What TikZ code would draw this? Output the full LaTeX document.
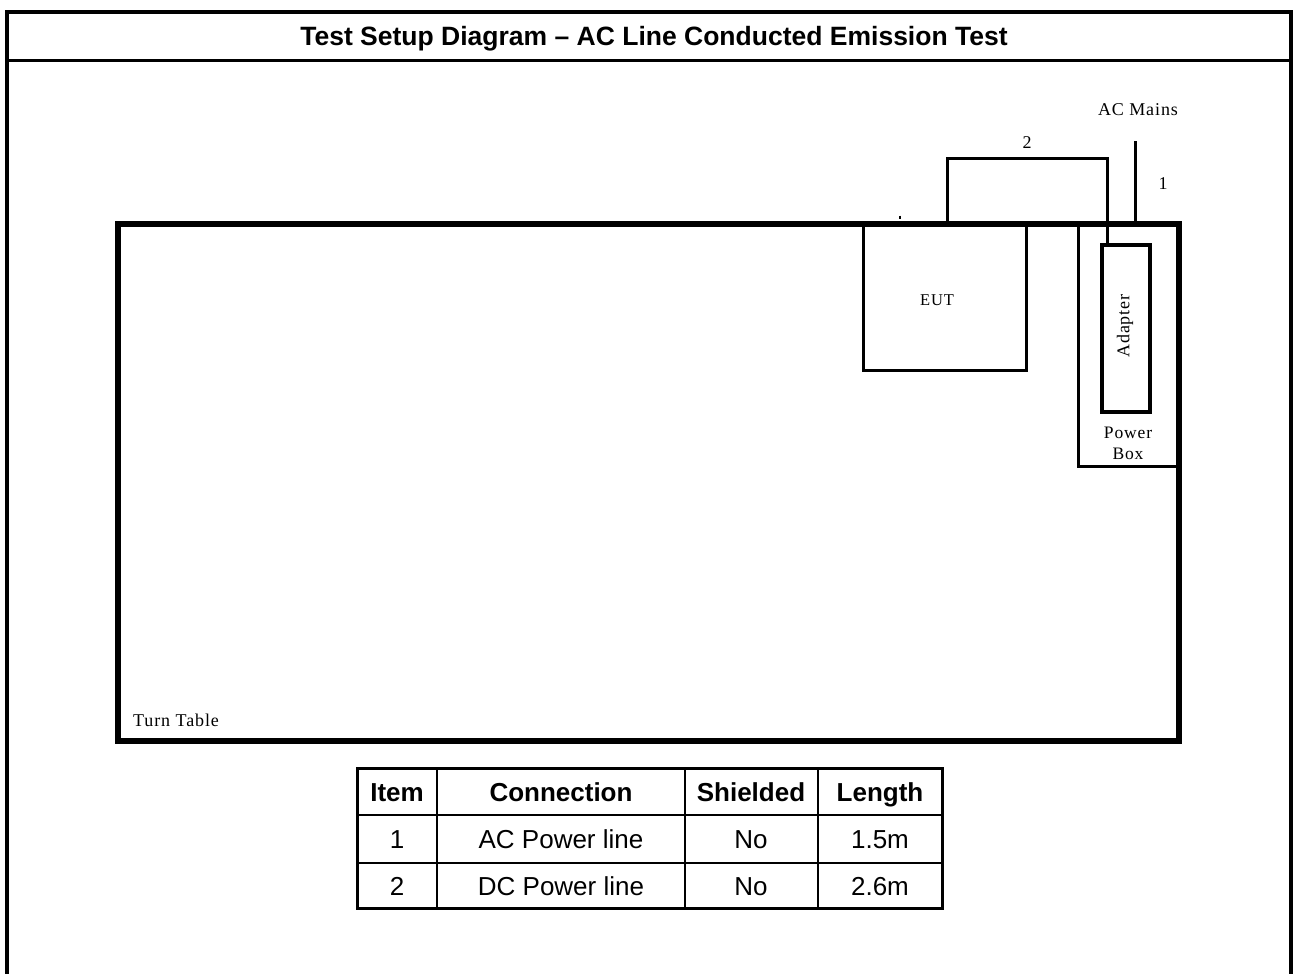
\documentclass[tikz,border=0pt]{standalone}
\usepackage{fontspec}
\setmainfont{Liberation Serif}
\newfontfamily\arial{Liberation Sans}
\newfontfamily\wserif[LetterSpace=5]{Liberation Serif}
\begin{document}
\begin{tikzpicture}[x=1pt,y=-1pt,
  frame/.style={line width=4pt},
  box/.style={draw,line width=3pt,inner sep=0pt},
  cable/.style={line width=3pt},
  lbl/.style={font=\wserif\fontsize{18}{21}\selectfont,inner sep=0pt},
  tcell/.style={font=\arial\fontsize{26}{28}\selectfont,inner sep=0pt,anchor=base},
  thead/.style={font=\arial\bfseries\fontsize{26}{28}\selectfont,inner sep=0pt,anchor=base}]
\useasboundingbox (0,0) rectangle (1293,974);
% outer frame
\draw[frame] (7,974) -- (7,12) -- (1291,12) -- (1291,974);
\draw[line width=3pt] (7,61) -- (1291,61);
\node[font=\arial\bfseries\fontsize{26.5}{28}\selectfont,inner sep=0pt,anchor=base] (title) at (654,46) {Test Setup Diagram – AC Line Conducted Emission Test};
% turn table
\node[box,line width=6pt,minimum width=1061pt,minimum height=517pt,anchor=north west] (tt) at (115,221) {};
\node[lbl,anchor=base west] (ttl) at (133,726) {Turn Table};
% EUT
\node[box,minimum width=163pt,minimum height=147pt,anchor=north west] (eut) at (862,222) {};
\node[lbl,font=\wserif\fontsize{16.5}{18}\selectfont] (eutl) at (937,300) {EUT};
% power box
\node[box,minimum width=99pt,minimum height=244pt,anchor=north west] (pb) at (1077,221) {};
\node[lbl,align=center,font=\wserif\fontsize{17.5}{21}\selectfont] (pbl) at (1128,443) {Power\\Box};
% adapter
\node[box,line width=4pt,minimum width=48pt,minimum height=167pt,anchor=north west] (ad) at (1100,243) {};
\node[lbl,rotate=90] (adl) at (1125,326) {Adapter};
% tiny mark
\draw[line width=2pt] (900,215.5) -- (900,219);
% cable 2
\coordinate (c2l) at (947,158);
\coordinate (c2r) at (1107,158);
\draw[cable] (eut.north -| c2l) -- (c2l) -- (c2r) -- (ad.north -| c2r);
\node[lbl] (n2) at (1027,143) {2};
% cable 1
\coordinate (mains) at (1135,141);
\draw[cable] (mains) -- (mains |- tt.north);
\node[lbl] (acm) at (1138,110) {AC Mains};
\node[lbl] (n1) at (1163,184) {1};
% table
\draw[line width=3pt] (357,768) rectangle (942,908);
\foreach \x in {437,685,818} \draw[line width=2.5pt] (\x,768) -- (\x,908);
\foreach \y in {815,863} \draw[line width=2.5pt] (357,\y) -- (942,\y);
\node[thead] (h1) at (397,801) {Item};
\node[thead] (h2) at (561,801) {Connection};
\node[thead] (h3) at (751,801) {Shielded};
\node[thead] (h4) at (880,801) {Length};
\node[tcell] (a1) at (397,848) {1};
\node[tcell] (a2) at (561,848) {AC Power line};
\node[tcell] (a3) at (751,848) {No};
\node[tcell] (a4) at (880,848) {1.5m};
\node[tcell] (b1) at (397,895) {2};
\node[tcell] (b2) at (561,895) {DC Power line};
\node[tcell] (b3) at (751,895) {No};
\node[tcell] (b4) at (880,895) {2.6m};
\end{tikzpicture}
\end{document}
